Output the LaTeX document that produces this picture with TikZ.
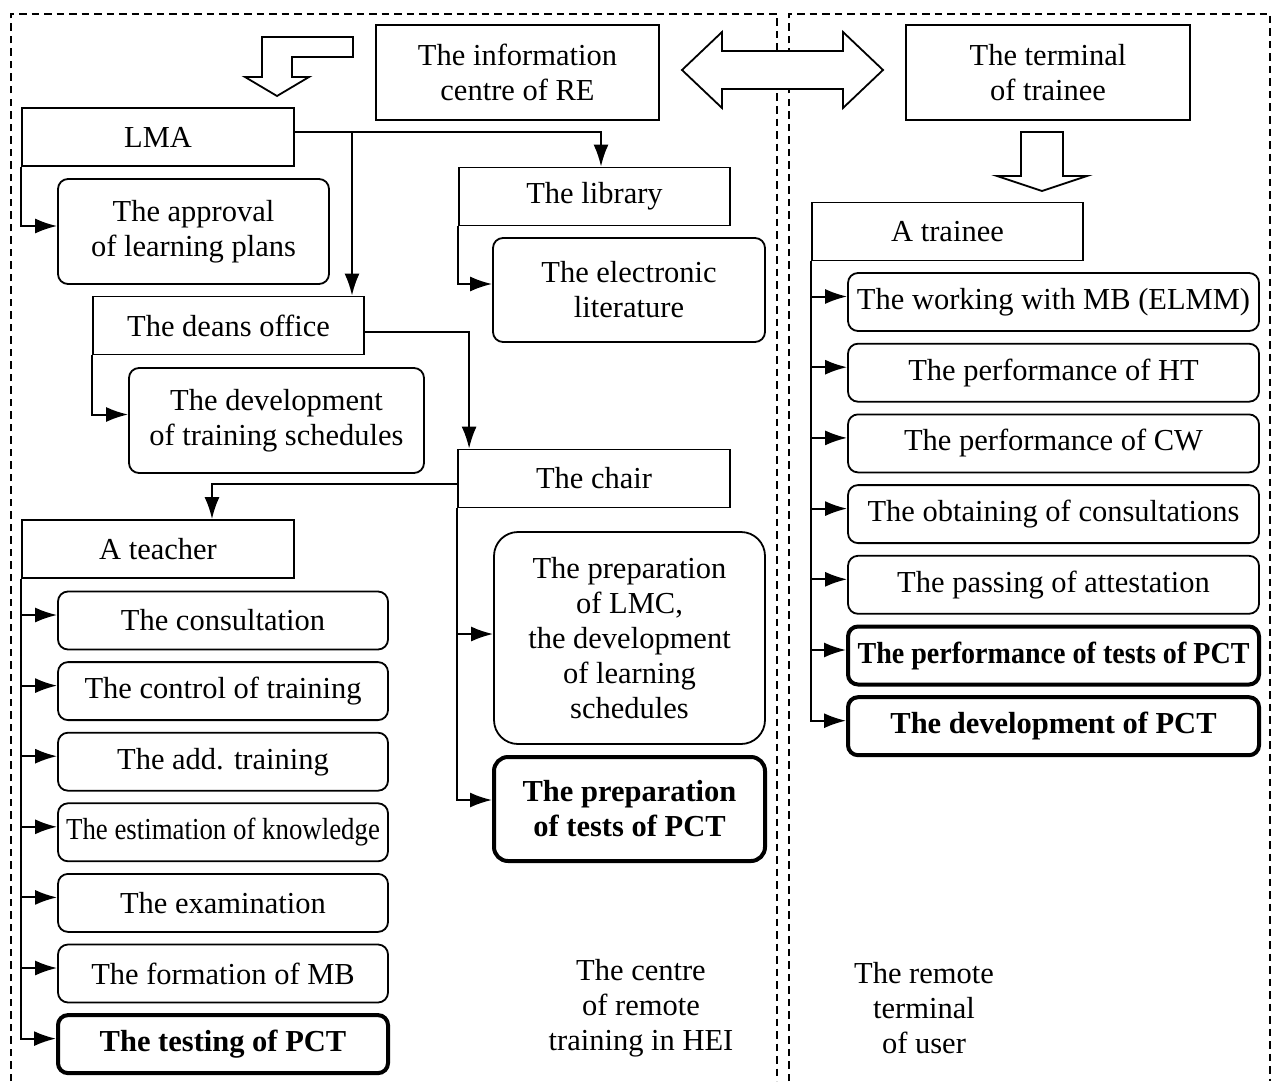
\documentclass[tikz,border=0pt]{standalone}
\usepackage{fontspec}
\setmainfont{Liberation Serif}
\usetikzlibrary{arrows.meta}
\tikzset{
    txt/.style={font=\fontsize{15.25}{17.5}\selectfont, align=center, inner sep=0pt},
    headbox/.style={txt, draw, line width=0.9pt, minimum width=136pt, minimum height=29pt},
    itembox/.style={txt, draw, line width=0.9pt, rounded corners=5pt, minimum height=29pt},
    leftitem/.style={itembox, minimum width=165pt},
    rightitem/.style={itembox, minimum width=205.5pt},
    boldbox/.style={line width=2pt, font=\fontsize{15.25}{17.5}\selectfont\bfseries},
    arr/.style={line width=1pt, -{Latex[length=11pt,width=7.5pt]}},
    link/.style={line width=1pt},
    frame/.style={line width=0.9pt, dash pattern=on 3.75pt off 2.5pt},
    blockarrow/.style={draw, fill=white, line width=0.9pt}
}
\begin{document}
\begin{tikzpicture}[x=0.5pt,y=-0.5pt]
        \useasboundingbox (0,0) rectangle (1277,1081);
        % the two zones
        \draw[frame] (11,1081) -- (11,14) -- (777,14) -- (777,1081);
        \draw[frame] (789,1081) -- (789,14) -- (1270,14) -- (1270,1081);
        \node[txt] (zone1) at (641,1008) {The centre\\of remote\\training in HEI};
        \node[txt] (zone2) at (924,1008) {The remote\\terminal\\of user};

        \node[headbox, minimum width=141.5pt, minimum height=47.5pt] (info) at (517.5,72.5) {The information\\centre of RE};
        \node[headbox, minimum width=142pt, minimum height=47.5pt] (term) at (1048,72.5) {The terminal\\of trainee};

        % block arrows
        \draw[blockarrow] (353,37) -- (262,37) -- (262,77) -- (245,77) -- (277,96) -- (309,77)
            -- (292,77) -- (292,57) -- (353,57) -- cycle;
        \draw[blockarrow] (682,70) -- (722,32) -- (722,51) -- (843,51) -- (843,32) -- (883,70)
            -- (843,108) -- (843,89) -- (722,89) -- (722,108) -- cycle;
        \draw[blockarrow] (1021,132) -- (1063,132) -- (1063,176) -- (1087,176) -- (1042,191)
            -- (997,176) -- (1021,176) -- cycle;

        % centre of remote training
        \node[headbox] (lma) at (158,137) {LMA};
        \node[itembox, minimum width=135.5pt, minimum height=52.5pt] (plans) at (193.5,231.5) {The approval\\of learning plans};
        \node[headbox, minimum width=135.5pt] (library) at (594.5,196.5) {The library};
        \node[itembox, minimum width=136pt, minimum height=52pt] (elit) at (629,290) {The electronic\\literature};
        \node[headbox, minimum width=135.5pt] (deans) at (228.5,325.5) {The deans office};
        \node[itembox, minimum width=147.5pt, minimum height=52.5pt] (sched) at (276.5,420.5) {The development\\of training schedules};
        \node[headbox] (chair) at (594,478.5) {The chair};
        \node[itembox, minimum width=135.5pt, minimum height=106pt, rounded corners=12pt] (lmc) at (629.5,638)
            {The preparation\\of LMC,\\the development\\of learning\\schedules};
        \node[itembox, boldbox, minimum width=135.5pt, minimum height=52pt, rounded corners=7pt] (prep) at (629.5,809)
            {The preparation\\of tests of PCT};
        \node[headbox] (teacher) at (158,549) {A teacher};

        \node[leftitem] (t1) at (223,620.5) {The consultation};
        \node[leftitem] (t2) at (223,691.1) {The control of training};
        \node[leftitem] (t3) at (223,761.7) {The add. training};
        \node[leftitem] (t4) at (223,832.3) {\scalebox{0.88}[1]{The estimation of knowledge}};
        \node[leftitem] (t5) at (223,902.9) {The examination};
        \node[leftitem] (t6) at (223,973.5) {The formation of MB};
        \node[leftitem, boldbox] (t7) at (223,1044.1) {The testing of PCT};

        % remote terminal
        \node[headbox, minimum width=135.5pt] (trainee) at (947.5,231.5) {A trainee};
        \node[rightitem] (s1) at (1053.5,302) {The working with MB (ELMM)};
        \node[rightitem] (s2) at (1053.5,372.7) {The performance of HT};
        \node[rightitem] (s3) at (1053.5,443.4) {The performance of CW};
        \node[rightitem] (s4) at (1053.5,514.1) {The obtaining of consultations};
        \node[rightitem] (s5) at (1053.5,584.8) {The passing of attestation};
        \node[rightitem, boldbox] (s6) at (1053.5,655.5) {\scalebox{0.92}[1]{The performance of tests of PCT}};
        \node[rightitem, boldbox] (s7) at (1053.5,726.2) {The development of PCT};

        % connections
        \coordinate (lmaj) at (352,132);
        \draw[link] ([yshift=2.5pt]lma.east) -- (lmaj);
        \draw[arr] (lmaj) -| ([xshift=3.25pt]library.north);
        \draw[arr] (lmaj) -- (lmaj |- deans.north);
        \draw[arr] (lma.south west) |- ([yshift=2.75pt]plans.west);
        \draw[arr] (library.south west) |- ([yshift=3pt]elit.west);
        \draw[arr] ([yshift=-3pt]deans.east) -| ([xshift=6pt]chair.north west);
        \draw[arr] (deans.south west) |- ([yshift=3pt]sched.west);
        \draw[arr] ([yshift=-2.75pt]chair.west) -| ([xshift=27pt]teacher.north);
        \draw[arr] (chair.south west) |- ([yshift=2pt]lmc.west);
        \draw[arr] (chair.south west) |- ([yshift=4.5pt]prep.west);
        \foreach \i in {1,...,7}
            \draw[arr] (teacher.south west) |- ([yshift=2.75pt]t\i.west);
        \foreach \i in {1,...,7}
            \draw[arr] (trainee.south west) |- ([yshift=2.75pt]s\i.west);
    \end{tikzpicture}
\end{document}
